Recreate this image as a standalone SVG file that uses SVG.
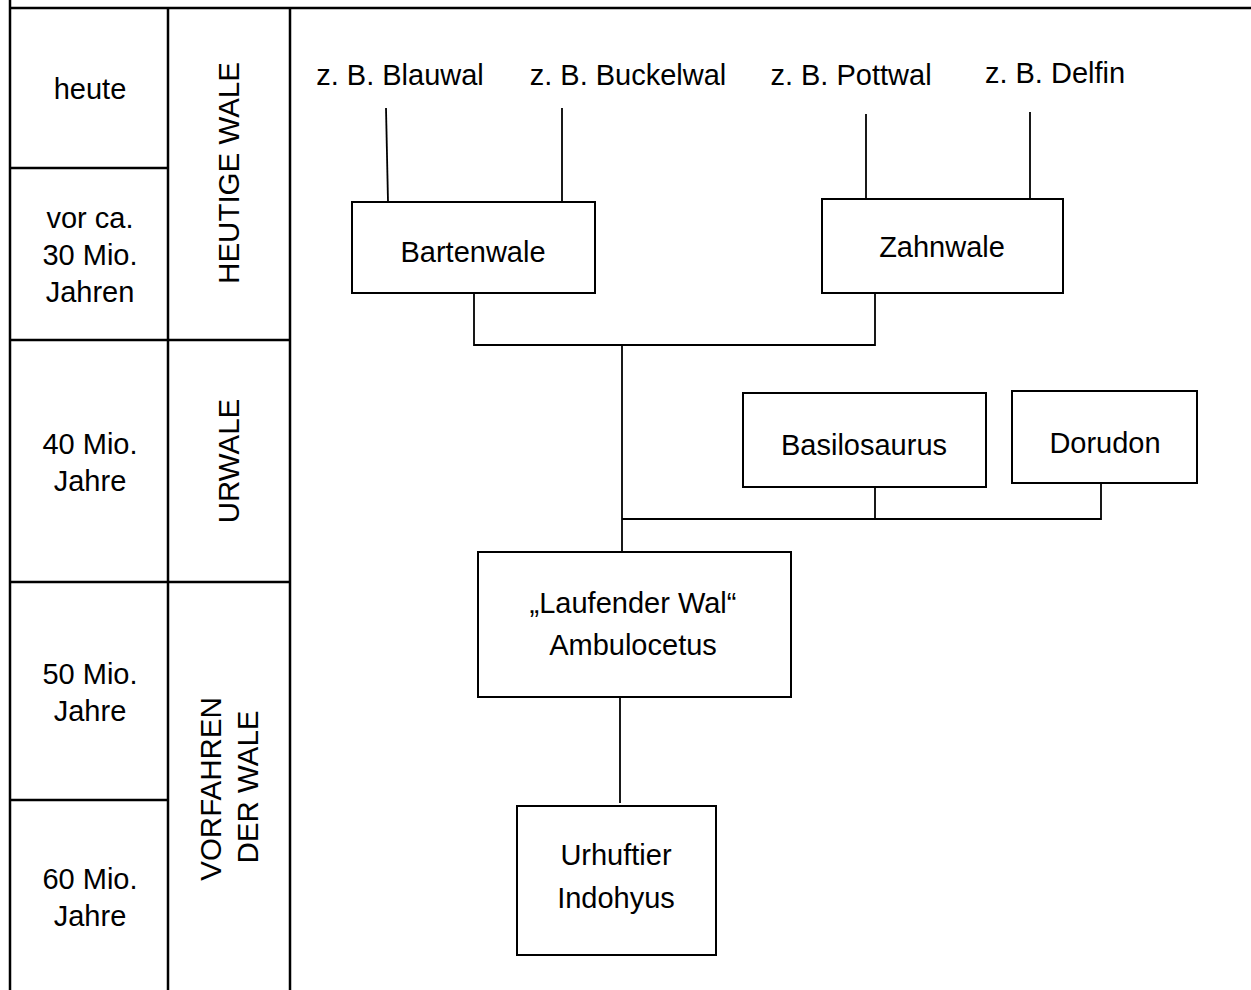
<svg xmlns="http://www.w3.org/2000/svg" width="1251" height="990" viewBox="0 0 1251 990">
<style>
text{font-family:"Liberation Sans",Arial,sans-serif;font-size:29px;fill:#000;text-anchor:middle}
.vt{font-size:29.5px}
.tbl{stroke:#000;stroke-width:2.5;fill:none}
.box{stroke:#000;stroke-width:2;fill:#fff}
.con{stroke:#000;stroke-width:1.8;fill:none}
</style>
<rect x="0" y="0" width="1251" height="990" fill="#fff"/>
<g id="table">
<line class="tbl" x1="10" y1="8" x2="1251" y2="8"/>
<line class="tbl" x1="10" y1="0" x2="10" y2="990"/>
<line class="tbl" x1="168" y1="8" x2="168" y2="990"/>
<line class="tbl" x1="290" y1="8" x2="290" y2="990"/>
<line class="tbl" x1="10" y1="168" x2="168" y2="168"/>
<line class="tbl" x1="10" y1="340" x2="290" y2="340"/>
<line class="tbl" x1="10" y1="582" x2="290" y2="582"/>
<line class="tbl" x1="10" y1="800" x2="168" y2="800"/>
</g>
<g id="time-labels">
<text x="90" y="99">heute</text>
<text x="90" y="228">vor ca.</text>
<text x="90" y="265">30 Mio.</text>
<text x="90" y="302">Jahren</text>
<text x="90" y="454">40 Mio.</text>
<text x="90" y="491">Jahre</text>
<text x="90" y="684">50 Mio.</text>
<text x="90" y="721">Jahre</text>
<text x="90" y="889">60 Mio.</text>
<text x="90" y="926">Jahre</text>
</g>
<g id="group-labels">
<text class="vt" transform="translate(239,173) rotate(-90)">HEUTIGE WALE</text>
<text class="vt" transform="translate(239,461) rotate(-90)">URWALE</text>
<text class="vt" transform="translate(221,789) rotate(-90)">VORFAHREN</text>
<text class="vt" transform="translate(258,787) rotate(-90)">DER WALE</text>
</g>
<g id="connectors">
<line class="con" x1="386" y1="108" x2="388" y2="202"/>
<line class="con" x1="562" y1="108" x2="562" y2="202"/>
<line class="con" x1="866" y1="114" x2="866" y2="199"/>
<line class="con" x1="1030" y1="112" x2="1030" y2="199"/>
<polyline class="con" points="474,293 474,345 875,345 875,293"/>
<line class="con" x1="622" y1="345" x2="622" y2="552"/>
<polyline class="con" points="622,519 1101,519 1101,483"/>
<line class="con" x1="875" y1="519" x2="875" y2="487"/>
<line class="con" x1="620" y1="697" x2="620" y2="803"/>
</g>
<g id="blauwal"><text x="400" y="85">z. B. Blauwal</text></g>
<g id="buckelwal"><text x="628" y="85">z. B. Buckelwal</text></g>
<g id="pottwal"><text x="851" y="85">z. B. Pottwal</text></g>
<g id="delfin"><text x="1055" y="83">z. B. Delfin</text></g>
<g id="bartenwale">
<rect class="box" x="352" y="202" width="243" height="91"/>
<text x="473" y="262">Bartenwale</text>
</g>
<g id="zahnwale">
<rect class="box" x="822" y="199" width="241" height="94"/>
<text x="942" y="257">Zahnwale</text>
</g>
<g id="basilosaurus">
<rect class="box" x="743" y="393" width="243" height="94"/>
<text x="864" y="455">Basilosaurus</text>
</g>
<g id="dorudon">
<rect class="box" x="1012" y="391" width="185" height="92"/>
<text x="1105" y="453">Dorudon</text>
</g>
<g id="ambulocetus">
<rect class="box" x="478" y="552" width="313" height="145"/>
<text x="633" y="613">„Laufender Wal“</text>
<text x="633" y="655">Ambulocetus</text>
</g>
<g id="indohyus">
<rect class="box" x="517" y="806" width="199" height="149"/>
<text x="616" y="865">Urhuftier</text>
<text x="616" y="908">Indohyus</text>
</g>
</svg>
